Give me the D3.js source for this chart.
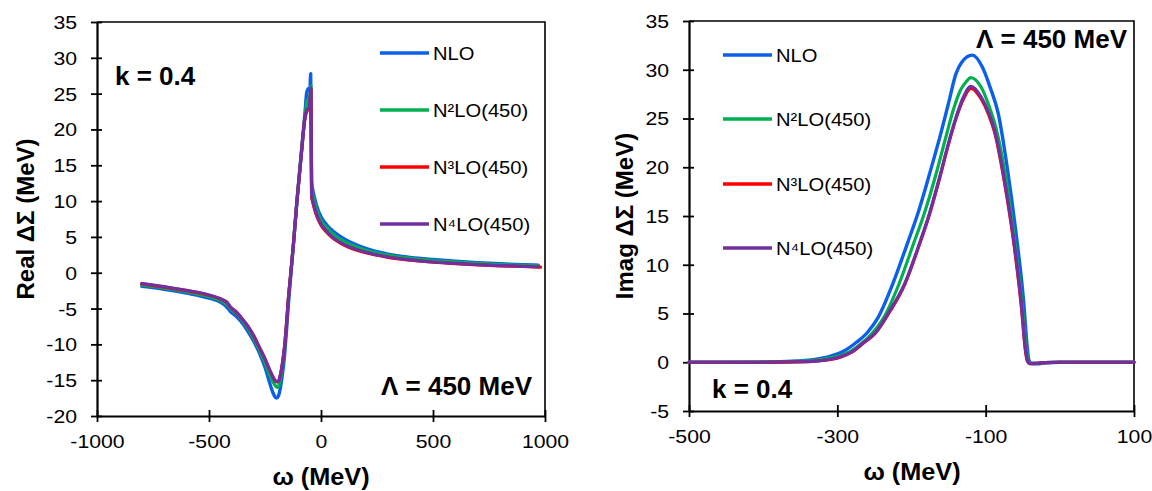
<!DOCTYPE html>
<html><head><meta charset="utf-8">
<script src="https://cdn.jsdelivr.net/npm/d3@7"></script>
<style>
body{margin:0;background:#fff;}
svg{display:block;}
text{font-family:"Liberation Sans",Arial,sans-serif;fill:#000;}
</style></head>
<body><svg id="c" width="1152" height="491"></svg>
<script>
// ---------------- DATA ----------------
const seriesNames = ["NLO","N\u00B2LO(450)","N\u00B3LO(450)","N\u2074LO(450)"];
const seriesColors = ["#0B5FE8","#00B050","#FF0000","#7030A0"];

const leftXTicks = [-1000,-500,0,500,1000];
const leftYTicks = [-20,-15,-10,-5,0,5,10,15,20,25,30,35];
const rightXTicks = [-500,-300,-100,100];
const rightYTicks = [-5,0,5,10,15,20,25,30,35];

// Real ΔΣ (MeV) vs ω (MeV)
const realNLO = [[-800,-1.9],[-700,-2.3],[-600,-2.85],[-500,-3.55],[-450,-4.1],[-430,-4.5],[-415,-5.0],[-405,-5.4],[-385,-5.9],[-360,-6.7],[-330,-8.0],[-300,-9.6],[-275,-11.2],[-250,-13.2],[-230,-15.3],[-215,-16.7],[-205,-17.35],[-198,-17.5],[-190,-17.2],[-182,-16.2],[-175,-14.8],[-164,-12.0],[-155,-8.5],[-146,-4.5],[-136,-0.8],[-123,4.0],[-108,9.8],[-90,16.0],[-71,22.5],[-64,25.1],[-57,25.7],[-50,25.3],[-46,27.8],[-42,12.8],[-38,11.8],[-30,10.6],[-20,9.4],[0,7.8],[25,6.7],[50,5.9],[100,4.8],[150,4.0],[200,3.4],[300,2.6],[400,2.15],[500,1.85],[600,1.6],[700,1.4],[800,1.25],[900,1.12],[970,1.05]];
const realN2LO = [[-800,-1.75],[-700,-2.15],[-600,-2.65],[-500,-3.35],[-450,-3.85],[-430,-4.2],[-415,-4.6],[-405,-5.0],[-385,-5.5],[-360,-6.3],[-330,-7.6],[-300,-9.2],[-275,-10.8],[-250,-12.6],[-230,-14.2],[-215,-15.2],[-203,-15.8],[-195,-16.0],[-187,-15.6],[-180,-14.6],[-172,-13.0],[-163,-10.6],[-155,-7.6],[-146,-3.9],[-136,-0.5],[-123,4.0],[-108,9.8],[-90,16.0],[-71,22.0],[-63,23.8],[-55,24.3],[-49,25.0],[-45,26.1],[-42,11.8],[-38,11.0],[-30,9.9],[-20,8.8],[0,7.3],[25,6.3],[50,5.5],[100,4.4],[150,3.7],[200,3.15],[300,2.45],[400,2.0],[500,1.7],[600,1.48],[700,1.3],[800,1.15],[900,1.03],[970,0.95]];
const realN3LO = [[-800,-1.55],[-700,-2.0],[-600,-2.5],[-500,-3.15],[-450,-3.65],[-430,-3.95],[-420,-4.15],[-410,-4.6],[-400,-4.95],[-380,-5.45],[-360,-6.15],[-330,-7.35],[-300,-8.85],[-275,-10.45],[-250,-12.05],[-230,-13.55],[-215,-14.55],[-203,-15.15],[-195,-15.25],[-188,-15.05],[-181,-14.25],[-172,-12.6],[-163,-10.4],[-155,-7.6],[-146,-3.8],[-136,-0.4],[-123,4.0],[-108,9.8],[-90,15.8],[-71,21.6],[-62,22.6],[-54,22.9],[-48,24.3],[-45,25.6],[-42,10.6],[-38,10.0],[-30,9.0],[-20,8.0],[0,6.65],[25,5.65],[50,4.9],[100,3.9],[150,3.25],[200,2.78],[300,2.15],[400,1.75],[500,1.46],[600,1.26],[700,1.1],[800,0.97],[900,0.87],[980,0.78]];
const realN4LO = [[-800,-1.5],[-700,-1.95],[-600,-2.45],[-500,-3.1],[-450,-3.6],[-430,-3.9],[-420,-4.1],[-410,-4.55],[-400,-4.9],[-380,-5.4],[-360,-6.1],[-330,-7.3],[-300,-8.8],[-275,-10.4],[-250,-12.0],[-230,-13.5],[-215,-14.5],[-203,-15.1],[-195,-15.2],[-188,-15.0],[-181,-14.2],[-172,-12.6],[-163,-10.4],[-155,-7.6],[-146,-3.8],[-136,-0.4],[-123,4.0],[-108,9.8],[-90,15.8],[-71,21.8],[-62,22.8],[-54,23.0],[-48,24.5],[-45,25.8],[-42,10.8],[-38,10.2],[-30,9.2],[-20,8.2],[0,6.8],[25,5.8],[50,5.0],[100,4.0],[150,3.35],[200,2.85],[300,2.2],[400,1.8],[500,1.5],[600,1.3],[700,1.13],[800,1.0],[900,0.9],[970,0.82]];

// Imag ΔΣ (MeV) vs ω (MeV)
const imagNLO = [[-500,0],[-450,0],[-400,0.02],[-360,0.1],[-330,0.3],[-310,0.6],[-290,1.2],[-275,2.0],[-260,3.0],[-245,4.6],[-225,8.1],[-205,12.3],[-190,15.6],[-175,19.5],[-160,23.6],[-150,26.6],[-140,29.6],[-132,30.8],[-118,31.5],[-104,30.2],[-94,28.2],[-83,25.5],[-71,20.0],[-59,13.2],[-49,6.4],[-44,1.6],[-42,0.3],[-39,-0.1],[-30,-0.15],[-20,-0.05],[0,0],[50,0],[100,0]];
const imagN2LO = [[-500,0],[-450,0],[-400,0.01],[-355,0.08],[-325,0.25],[-303,0.55],[-283,1.1],[-268,1.9],[-254,2.9],[-238,4.5],[-217,8.0],[-198,12.0],[-183,15.2],[-168,19.0],[-154,23.0],[-144,25.8],[-134,27.9],[-126,28.8],[-120,29.2],[-106,28.2],[-96,26.4],[-86,24.0],[-73,19.0],[-61,12.5],[-51,6.0],[-45,1.2],[-43,0.2],[-40,-0.12],[-30,-0.12],[-20,-0.04],[0,0],[50,0],[100,0]];
const imagN3LO = [[-500,0],[-450,0],[-400,0.0],[-350,0.04],[-320,0.18],[-296,0.52],[-280,1.05],[-265,1.95],[-249,2.95],[-230,5.1],[-209,8.0],[-191,11.7],[-176,15.1],[-162,18.9],[-150,22.4],[-140,25.0],[-130,27.0],[-120,28.1],[-106,27.0],[-96,25.4],[-88,23.6],[-75,18.6],[-62,12.2],[-52,5.8],[-46,1.0],[-44,0.2],[-40,-0.15],[-30,-0.1],[-20,-0.03],[0,0],[50,0],[100,0]];
const imagN4LO = [[-500,0],[-450,0],[-400,0.0],[-350,0.05],[-320,0.2],[-296,0.57],[-280,1.1],[-265,2.0],[-249,3.0],[-230,5.2],[-209,8.1],[-191,11.8],[-176,15.2],[-162,19.0],[-150,22.5],[-140,25.1],[-130,27.2],[-120,28.3],[-106,27.2],[-96,25.6],[-88,23.8],[-75,18.8],[-62,12.4],[-52,6.0],[-46,1.1],[-44,0.2],[-40,-0.15],[-30,-0.1],[-20,-0.03],[0,0],[50,0],[100,0]];

const realSeries = [realNLO, realN2LO, realN3LO, realN4LO];
const imagSeries = [imagNLO, imagN2LO, imagN3LO, imagN4LO];

// ---------------- DRAW ----------------
const svg = d3.select("#c");
svg.append("rect").attr("width",1152).attr("height",491).attr("fill","#fff");

function panel(cfg){
  const x = d3.scaleLinear().domain(cfg.xDomain).range([cfg.x0,cfg.x1]);
  const y = d3.scaleLinear().domain(cfg.yDomain).range([cfg.yB,cfg.yT]);
  const g = svg.append("g");

  // frame (top & right)
  g.append("path")
    .attr("d",`M${cfg.x0},${cfg.yT}H${cfg.x1}V${cfg.yB}`)
    .attr("fill","none").attr("stroke","#000").attr("stroke-width",1.6);

  // x axis
  const xa = g.append("g").attr("transform",`translate(0,${cfg.yB})`)
    .call(d3.axisBottom(x).tickValues(cfg.xTicks).tickFormat(d3.format("d")).tickSize(6).tickSizeOuter(0));
  xa.select(".domain").attr("stroke","#000").attr("stroke-width",2.2);
  xa.selectAll(".tick line").attr("y1",-6).attr("y2",6).attr("stroke-width",1.8);
  xa.selectAll(".tick text").attr("y",32).attr("dy",0)
    .attr("font-size",18).attr("font-family","Liberation Sans, Arial, sans-serif")
    .attr("transform","scale(1.18,1)");

  // y axis
  const ya = g.append("g").attr("transform",`translate(${cfg.x0},0)`)
    .call(d3.axisLeft(y).tickValues(cfg.yTicks).tickFormat(d3.format("d")).tickSize(6).tickSizeOuter(0));
  ya.select(".domain").attr("stroke","#000").attr("stroke-width",2.2);
  ya.selectAll(".tick line").attr("x1",5).attr("x2",-6).attr("stroke-width",1.8);
  ya.selectAll(".tick text").attr("x",-20/1.18).attr("dy","0.36em")
    .attr("font-size",18).attr("font-family","Liberation Sans, Arial, sans-serif")
    .attr("transform","scale(1.18,1)");
  g.selectAll(".tick text").text(d=>String(d));

  // series
  const line = d3.line().x(d=>x(d[0])).y(d=>y(d[1])).curve(d3.curveMonotoneX);
  cfg.series.forEach((s,i)=>{
    g.append("path").datum(s).attr("d",line)
      .attr("fill","none").attr("stroke",seriesColors[i])
      .attr("stroke-width",i===0?3.4:3.2).attr("stroke-linejoin","round").attr("stroke-linecap","round");
  });

  // legend
  seriesNames.forEach((n,i)=>{
    const ly = cfg.legY[i];
    g.append("line").attr("x1",cfg.legX).attr("x2",cfg.legX+49).attr("y1",ly).attr("y2",ly)
      .attr("stroke",seriesColors[i]).attr("stroke-width",3.6);
    g.append("text").attr("transform",`translate(${cfg.legX+53},${ly+6.5}) scale(1.12,1)`)
      .attr("font-size",18).text(n);
  });

  // axis titles
  g.append("text").attr("transform",`translate(${cfg.xTitleX},${cfg.xTitleY}) scale(1.1,1)`)
    .attr("text-anchor","middle").attr("font-weight","bold").attr("font-size",23).text("\u03C9 (MeV)");
  g.append("text").attr("transform",`translate(${cfg.yTitleX},${(cfg.yT+cfg.yB)/2}) rotate(-90)`)
    .attr("text-anchor","middle").attr("font-weight","bold").attr("font-size",24).text(cfg.yTitle);

  // annotations
  cfg.notes.forEach(nt=>{
    g.append("text").attr("x",nt.x).attr("y",nt.y).attr("text-anchor",nt.anchor)
      .attr("font-weight","bold").attr("font-size",26).text(nt.t);
  });
}

panel({
  xDomain:[-1000,1000], yDomain:[-20,35], x0:97, x1:545, yT:22, yB:416,
  xTicks:leftXTicks, yTicks:leftYTicks, series:realSeries,
  legX:380, legY:[53,110,167,224],
  xTitleX:321, xTitleY:485, yTitleX:34, yTitle:"Real \u0394\u03A3 (MeV)",
  notes:[{x:115,y:85,anchor:"start",t:"k = 0.4"},{x:532,y:395,anchor:"end",t:"\u039B = 450 MeV"}]
});

panel({
  xDomain:[-500,100], yDomain:[-5,35], x0:689, x1:1134, yT:21, yB:411,
  xTicks:rightXTicks, yTicks:rightYTicks, series:imagSeries,
  legX:723, legY:[55,119,184,248],
  xTitleX:912, xTitleY:480, yTitleX:633, yTitle:"Imag \u0394\u03A3 (MeV)",
  notes:[{x:712,y:398,anchor:"start",t:"k = 0.4"},{x:1127,y:48,anchor:"end",t:"\u039B = 450 MeV"}]
});
</script>
</body></html>
